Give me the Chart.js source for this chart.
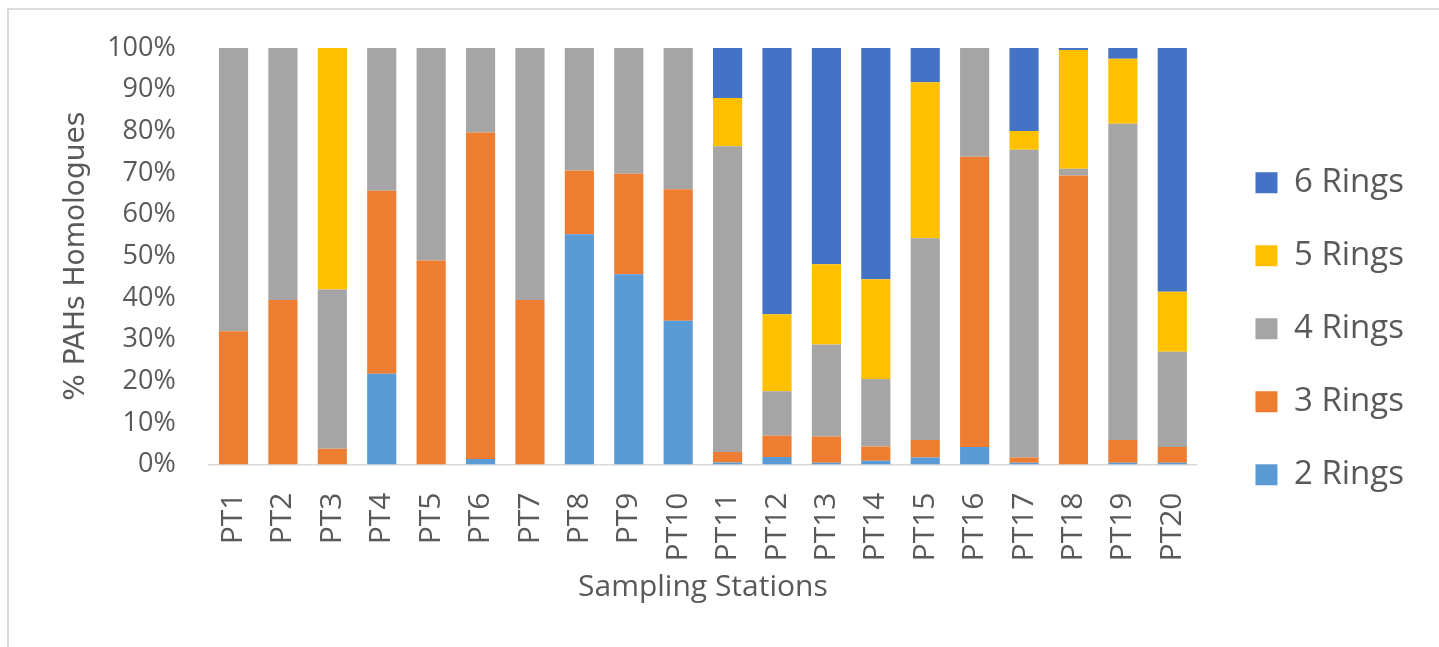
<!DOCTYPE html>
<html>
<head>
<meta charset="utf-8">
<title>PAHs Homologues by Sampling Station</title>
<script src="https://cdn.jsdelivr.net/npm/chart.js@4"></script>
<style>
  html, body { margin: 0; padding: 0; background: #ffffff; }
  #wrap { position: relative; width: 1439px; height: 647px; overflow: hidden; }
  #frame { position: absolute; left: 7px; top: 8px; right: -10px; bottom: -10px;
           border-top: 2px solid #dcdcdc; border-left: 2px solid #dcdcdc; }
  #chart { position: absolute; left: 0; top: 0; }
</style>
</head>
<body>
<div id="wrap">
  <div id="frame"></div>
  <canvas id="chart" width="1439" height="647"></canvas>
</div>
<script>
// Sampling stations
const stations = ['PT1','PT2','PT3','PT4','PT5','PT6','PT7','PT8','PT9','PT10',
                  'PT11','PT12','PT13','PT14','PT15','PT16','PT17','PT18','PT19','PT20'];

// Share (%) of each ring-number group of PAHs at every station
const rings2 = [0, 0, 0, 21.8, 0, 1.3, 0, 55.3, 45.7, 34.5,
                0.5, 1.8, 0.4, 0.9, 1.7, 4.2, 0.4, 0, 0.4, 0.4];
const rings3 = [32.0, 39.5, 3.8, 43.9, 49.0, 78.4, 39.5, 15.3, 24.1, 31.6,
                2.5, 5.1, 6.3, 3.4, 4.2, 69.7, 1.3, 69.4, 5.5, 3.8];
const rings4 = [68.0, 60.5, 38.2, 34.3, 51.0, 20.3, 60.5, 29.4, 30.2, 33.9,
                73.4, 10.7, 22.1, 16.2, 48.4, 26.1, 73.9, 1.6, 75.9, 22.9];
const rings5 = [0, 0, 58.0, 0, 0, 0, 0, 0, 0, 0,
                11.6, 18.5, 19.3, 24.0, 37.5, 0, 4.5, 28.5, 15.6, 14.4];
const rings6 = [0, 0, 0, 0, 0, 0, 0, 0, 0, 0,
                12.0, 63.9, 51.9, 55.5, 8.2, 0, 19.9, 0.5, 2.6, 58.5];

// Percent axis ticks
const percentTicks = [0, 10, 20, 30, 40, 50, 60, 70, 80, 90, 100];

const textGray = '#595959';

const series = [
  { label: '2 Rings', data: rings2, color: '#5B9BD5' },
  { label: '3 Rings', data: rings3, color: '#ED7D31' },
  { label: '4 Rings', data: rings4, color: '#A5A5A5' },
  { label: '5 Rings', data: rings5, color: '#FFC000' },
  { label: '6 Rings', data: rings6, color: '#4472C4' }
];

new Chart(document.getElementById('chart'), {
  type: 'bar',
  data: {
    labels: stations,
    datasets: series.map(s => ({
      label: s.label,
      data: s.data,
      backgroundColor: s.color,
      borderWidth: 0,
      barPercentage: 0.59,
      categoryPercentage: 1.0
    }))
  },
  options: {
    responsive: false,
    animation: false,
    devicePixelRatio: 1,
    layout: { padding: { left: 60, top: 48, bottom: 37.5, right: 25 } },
    plugins: {
      tooltip: { enabled: false },
      legend: {
        position: 'right',
        reverse: true,
        labels: {
          color: textGray,
          font: { family: 'Open Sans', size: 33 },
          boxWidth: 22,
          boxHeight: 21,
          padding: 40,
          textAlign: 'left'
        }
      }
    },
    scales: {
      x: {
        stacked: true,
        grid: { display: false },
        border: { display: true, color: '#d9d9d9', width: 1.5 },
        ticks: {
          color: textGray,
          font: { family: 'Open Sans', size: 30 },
          autoSkip: false,
          minRotation: 90,
          maxRotation: 90,
          padding: 20
        },
        title: {
          display: true,
          text: 'Sampling Stations',
          color: textGray,
          font: { family: 'Open Sans', size: 30 },
          padding: { top: 10, bottom: 4 }
        },
        afterFit(scale) { scale.height = 145; }
      },
      y: {
        stacked: true,
        min: 0,
        max: 100,
        grid: { display: false },
        border: { display: false },
        afterBuildTicks(scale) { scale.ticks = percentTicks.map(v => ({ value: v })); },
        ticks: {
          color: textGray,
          font: { family: 'Open Sans', size: 27 },
          padding: 25,
          callback: v => v + '%'
        },
        title: {
          display: true,
          text: '% PAHs Homologues',
          color: textGray,
          font: { family: 'DejaVu Sans', size: 28 },
          padding: { top: 0, bottom: 20 }
        },
        afterFit(scale) { scale.width = 148.8; }
      },
      // empty spacer between the plot and the legend
      gap: {
        type: 'linear',
        position: 'right',
        display: true,
        grid: { display: false },
        border: { display: false },
        ticks: { display: false },
        afterFit(scale) { scale.width = 18.5; }
      }
    }
  }
});
</script>
</body>
</html>
